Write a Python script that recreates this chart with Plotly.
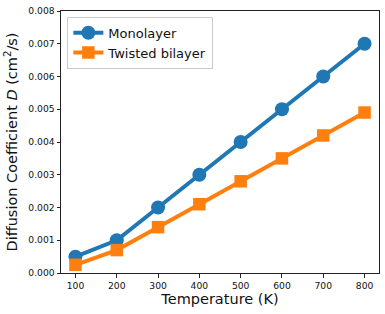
import plotly.graph_objects as go

temperature = [100, 200, 300, 400, 500, 600, 700, 800]
monolayer = [0.0005, 0.0010, 0.0020, 0.0030, 0.0040, 0.0050, 0.0060, 0.0070]
twisted_bilayer = [0.00025, 0.0007, 0.0014, 0.0021, 0.0028, 0.0035, 0.0042, 0.0049]
x_ticks = [100, 200, 300, 400, 500, 600, 700, 800]
y_ticks = [0.0, 0.001, 0.002, 0.003, 0.004, 0.005, 0.006, 0.007, 0.008]

fig = go.Figure()
fig.add_trace(go.Scatter(x=temperature, y=monolayer, mode="lines+markers", name="Monolayer",
                         line=dict(color="#1f77b4", width=4),
                         marker=dict(symbol="circle", size=14, color="#1f77b4")))
fig.add_trace(go.Scatter(x=temperature, y=twisted_bilayer, mode="lines+markers", name="Twisted bilayer",
                         line=dict(color="#ff7f0e", width=4),
                         marker=dict(symbol="square", size=12.5, color="#ff7f0e")))

axis_common = dict(showgrid=False, zeroline=False, showline=True, linecolor="#222", linewidth=1,
                   mirror=True, ticks="outside", ticklen=3.5, tickwidth=1, tickcolor="#222",
                   automargin=False,
                   tickfont=dict(family="DejaVu Sans", size=9.2, color="#111"))

fig.update_xaxes(range=[65, 835], tickvals=x_ticks, ticktext=[str(t) for t in x_ticks],
                 title=dict(text="Temperature (K)", font=dict(family="DejaVu Sans", size=14.5, color="#111"), standoff=4),
                 **axis_common)
fig.update_yaxes(range=[0, 0.008], tickvals=y_ticks, ticktext=[f"{v:.3f}" for v in y_ticks],
                 title=dict(text="Diffusion Coefficient <i>D</i> (cm<sup>2</sup>/s)",
                            font=dict(family="DejaVu Sans", size=14.5, color="#111"), standoff=7),
                 **axis_common)

fig.update_layout(width=385, height=314, margin=dict(l=61, r=6, t=11, b=41, autoexpand=False),
                  plot_bgcolor="white", paper_bgcolor="white",
                  legend=dict(x=0.02, y=0.978, xanchor="left", yanchor="top",
                              bgcolor="rgba(255,255,255,0.8)", bordercolor="#ccc", borderwidth=1,
                              font=dict(family="DejaVu Sans", size=13, color="#111"),
                              itemwidth=30, tracegroupgap=0),
                  showlegend=True)

fig.write_html("out.html", config={"displayModeBar": False},
               post_script="document.body.style.margin='0';")
